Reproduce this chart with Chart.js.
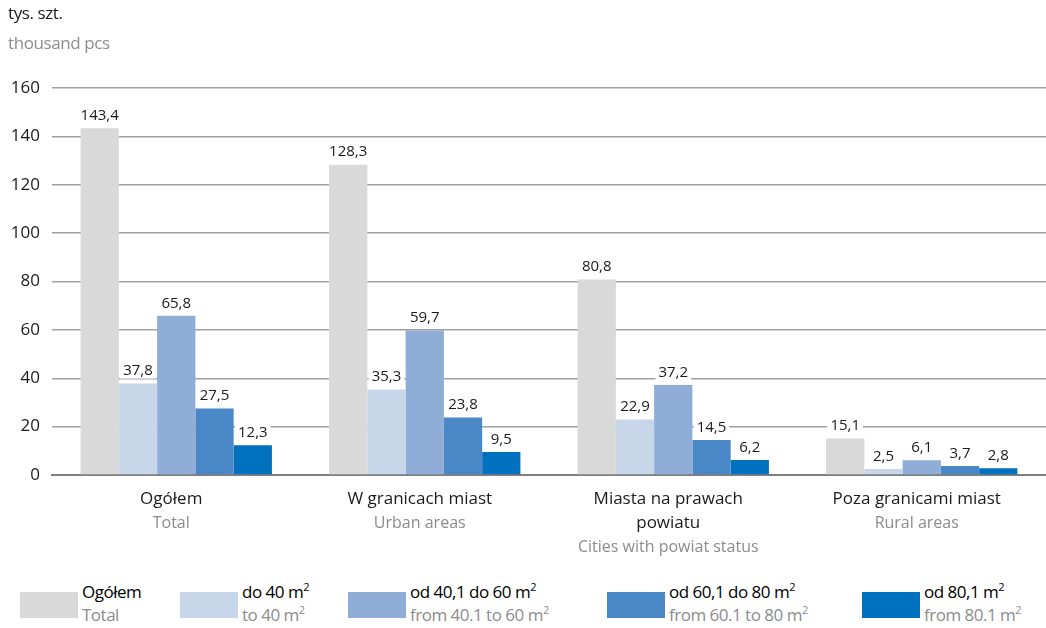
<!DOCTYPE html>
<html>
<head>
<meta charset="utf-8">
<script src="https://cdn.jsdelivr.net/npm/chart.js@4"></script>
<style>
  body { margin: 0; background: #fff; font-family: "Open Sans", sans-serif; }
  #wrap { position: relative; width: 1046px; height: 628px; overflow: hidden; }
  #chart { position: absolute; left: 0; top: 0; }
  .unit { position: absolute; left: 8px; font-size: 17px; letter-spacing: -0.4px; }
  #legend { position: absolute; left: 0; top: 580px; width: 1046px; height: 48px; }
  .item { position: absolute; top: 0; font-size: 17px; line-height: 23px; letter-spacing: -0.5px; }
  .item .sw { position: absolute; left: 0; top: 12px; width: 58px; height: 26px; }
  .item .t { position: absolute; left: 62px; top: 0; white-space: nowrap; }
  .item .en { color: #8c8c8c; }
  sup { font-size: 11px; line-height: 0; vertical-align: 7px; }
</style>
</head>
<body>
<div id="wrap">
  <canvas id="chart" width="1046" height="575"></canvas>
  <div class="unit" style="top:1px;color:#1a1a1a">tys. szt.</div>
  <div class="unit" style="top:31px;color:#8c8c8c">thousand pcs</div>
  <div id="legend"></div>
</div>
<script>
// categories (Polish / English)
const categoriesPl = [['Ogółem'], ['W granicach miast'], ['Miasta na prawach', 'powiatu'], ['Poza granicami miast']];
const categoriesEn = ['Total', 'Urban areas', 'Cities with powiat status', 'Rural areas'];

// series
const seriesPl = ['Ogółem', 'do 40 m²', 'od 40,1 do 60 m²', 'od 60,1 do 80 m²', 'od 80,1 m²'];
const seriesEn = ['Total', 'to 40 m²', 'from 40.1 to 60 m²', 'from 60.1 to 80 m²', 'from 80.1 m²'];
const seriesColors = ['#d9d9d9', '#c8d6ea', '#8fadd6', '#4a87c6', '#0071bf'];

const totalVals = [143.4, 128.3, 80.8, 15.1];
const to40Vals = [37.8, 35.3, 22.9, 2.5];
const from40to60Vals = [65.8, 59.7, 37.2, 6.1];
const from60to80Vals = [27.5, 23.8, 14.5, 3.7];
const from80Vals = [12.3, 9.5, 6.2, 2.8];
const seriesValues = [totalVals, to40Vals, from40to60Vals, from60to80Vals, from80Vals];

const yTicks = [0, 20, 40, 60, 80, 100, 120, 140, 160];

const FONT = '"Open Sans", sans-serif';

// value labels on white boxes above bars
const valueLabels = {
    id: 'valueLabels',
    afterDatasetsDraw(chart) {
        const ctx = chart.ctx;
        ctx.save();
        ctx.font = '15px ' + FONT;
        ctx.textAlign = 'center';
        ctx.textBaseline = 'bottom';
        chart.data.datasets.forEach((ds, i) => {
            chart.getDatasetMeta(i).data.forEach((bar, j) => {
                const txt = ds.data[j].toFixed(1).replace('.', ',');
                const w = ctx.measureText(txt).width;
                const y = bar.y - 5;
                ctx.fillStyle = '#fff';
                ctx.fillRect(bar.x - w / 2 - 3, y - 17, w + 6, 17);
                ctx.fillStyle = '#1a1a1a';
                ctx.fillText(txt, bar.x, y);
            });
        });
        ctx.restore();
    }
};

// two-colour category labels under the axis
const categoryLabels = {
    id: 'categoryLabels',
    afterDraw(chart) {
        const ctx = chart.ctx;
        const xs = chart.scales.x;
        const top = chart.chartArea.bottom + 16;
        ctx.save();
        ctx.textAlign = 'center';
        ctx.textBaseline = 'top';
        categoriesPl.forEach((lines, i) => {
            const x = xs.getPixelForValue(i) - 5;
            let y = top;
            ctx.font = '17px ' + FONT;
            ctx.fillStyle = '#1a1a1a';
            lines.forEach(l => {
                ctx.fillText(l, x, y);
                y += 24;
            });
            ctx.fillStyle = '#8c8c8c';
            ctx.font = '16px ' + FONT;
            ctx.fillText(categoriesEn[i], x, y);
        });
        ctx.restore();
    }
};

new Chart(document.getElementById('chart'), {
    type: 'bar',
    data: {
        labels: categoriesPl.map(l => l.join(' ')),
        datasets: seriesPl.map((name, i) => ({
            label: name,
            data: seriesValues[i],
            backgroundColor: seriesColors[i],
            borderWidth: 0,
            categoryPercentage: 0.77,
            barPercentage: 1.0
        }))
    },
    options: {
        responsive: false,
        animation: false,
        layout: { padding: { top: 88, left: 4, right: 0, bottom: 100 } },
        plugins: { legend: { display: false }, tooltip: { enabled: false } },
        scales: {
            x: {
                grid: { display: false, drawTicks: false },
                border: { color: '#7f7f7f', width: 2 },
                ticks: { display: false }
            },
            y: {
                min: 0,
                max: 160,
                afterBuildTicks(scale) { scale.ticks = yTicks.map(v => ({ value: v })); },
                afterFit(scale) { scale.width = 48; },
                grid: { color: '#a0a0a0', lineWidth: 1.5, drawTicks: false },
                border: { display: false },
                ticks: { color: '#1a1a1a', font: { family: FONT, size: 17 }, padding: 12 }
            }
        }
    },
    plugins: [valueLabels, categoryLabels]
});

// legend
const legendX = [20, 180, 348, 607, 862];
const sup = s => s.replace('m²', 'm<sup>2</sup>');
const legend = document.getElementById('legend');
seriesPl.forEach((name, i) => {
    const d = document.createElement('div');
    d.className = 'item';
    d.style.left = legendX[i] + 'px';
    d.innerHTML = '<div class="sw" style="background:' + seriesColors[i] + '"></div>' +
        '<div class="t">' + sup(name) + '<br><span class="en">' + sup(seriesEn[i]) + '</span></div>';
    legend.appendChild(d);
});
</script>
</body>
</html>
